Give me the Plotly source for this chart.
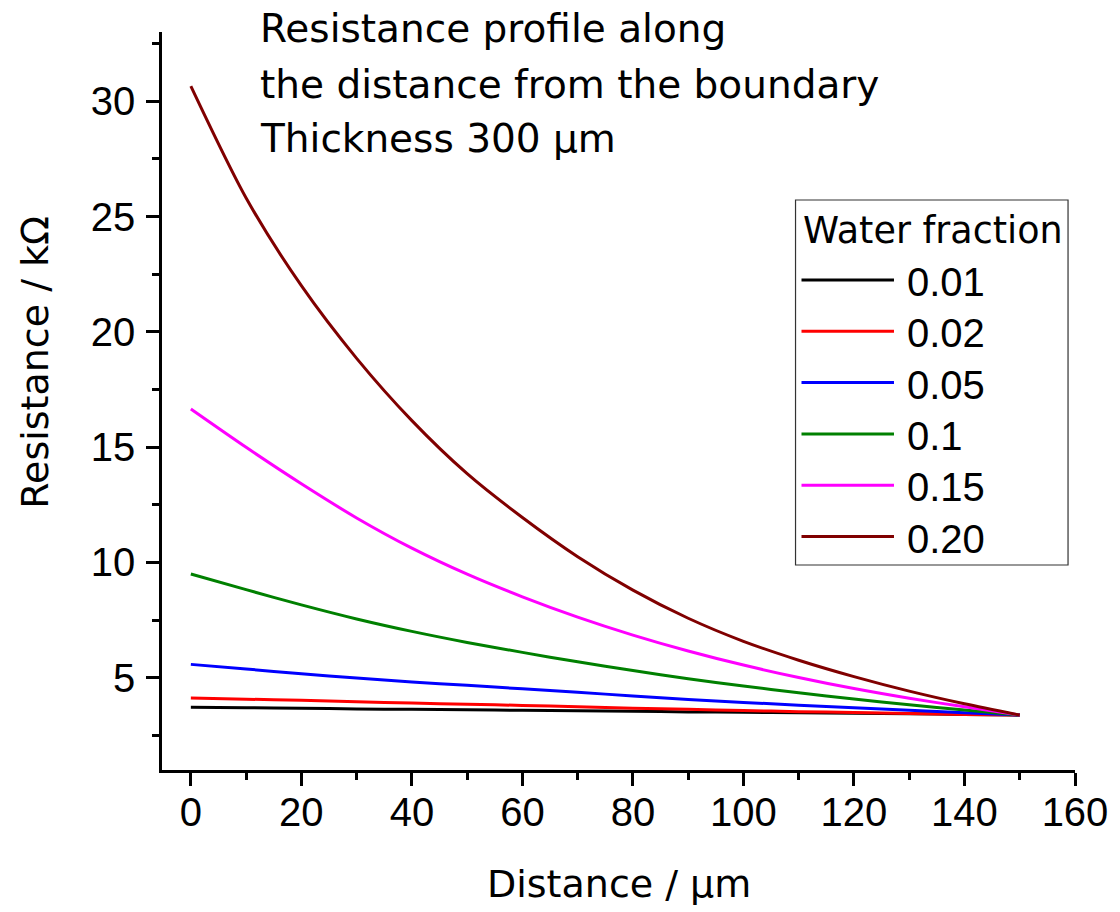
import plotly.graph_objects as go

# ---------------- data ----------------
distance_um = [0, 10, 20, 30, 40, 50, 60, 70, 80, 90, 100, 110, 120, 130, 140, 150]

r_001 = [3.72, 3.70, 3.68, 3.65, 3.63, 3.61, 3.59, 3.57, 3.55, 3.52, 3.50, 3.48, 3.46, 3.44, 3.41, 3.38]
r_002 = [4.12, 4.07, 4.02, 3.96, 3.90, 3.85, 3.80, 3.74, 3.68, 3.63, 3.58, 3.53, 3.49, 3.45, 3.41, 3.38]
r_005 = [5.58, 5.38, 5.17, 4.99, 4.82, 4.67, 4.52, 4.37, 4.21, 4.06, 3.93, 3.81, 3.70, 3.59, 3.48, 3.38]
r_010 = [9.50, 8.82, 8.16, 7.55, 7.01, 6.53, 6.10, 5.69, 5.31, 4.96, 4.64, 4.35, 4.08, 3.83, 3.60, 3.38]
r_015 = [16.65, 14.99, 13.41, 11.93, 10.62, 9.49, 8.51, 7.63, 6.85, 6.16, 5.55, 5.01, 4.53, 4.11, 3.74, 3.38]
r_020 = [30.65, 25.80, 22.00, 18.85, 16.15, 13.85, 11.95, 10.25, 8.80, 7.58, 6.58, 5.76, 5.05, 4.42, 3.87, 3.38]

series_names = ["0.01", "0.02", "0.05", "0.1", "0.15", "0.20"]
series_values = [r_001, r_002, r_005, r_010, r_015, r_020]
series_colors = ["#000000", "#ff0000", "#0000ff", "#008000", "#ff00ff", "#800000"]

x_ticks = [0, 20, 40, 60, 80, 100, 120, 140, 160]
y_ticks = [5, 10, 15, 20, 25, 30]

title_lines = ["Resistance profile along", "the distance from the boundary", "Thickness 300 \u03bcm"]
legend_title = "Water fraction"
x_title = "Distance / \u03bcm"
y_title = "Resistance / k\u03a9"

# ---------------- figure ----------------
FONT = "Arial, 'Liberation Sans', sans-serif"
FONT_TXT = "'DejaVu Sans', Arial, sans-serif"
FS = 40
FS_TXT = 38
W, H = 1120, 912
L, R, T, B = 162, 40, 32, 142
PW, PH = W - L - R, H - T - B


def px_x(px):
    return (px - L) / PW


def px_y(py):
    return (H - B - py) / PH


fig = go.Figure()
for name, vals, col in zip(series_names, series_values, series_colors):
    fig.add_trace(go.Scatter(x=distance_um, y=vals, mode="lines", name=name,
                             line=dict(color=col, width=3, shape="spline", smoothing=0.8),
                             showlegend=False))

axis_common = dict(
    showline=True, linecolor="black", linewidth=2.5, mirror=False,
    showgrid=False, zeroline=False,
    ticks="outside", ticklen=13, tickwidth=2.5, tickcolor="black",
    tickfont=dict(family=FONT, size=FS, color="black"),
)

fig.update_xaxes(range=[-5.22, 160], tickvals=x_ticks, ticklabelstandoff=-8,
                 minor=dict(dtick=10, tick0=0, ticks="outside", ticklen=7,
                            tickwidth=2.5, tickcolor="black"),
                 **axis_common)
fig.update_yaxes(range=[1, 33], tickvals=y_ticks, ticklabelstandoff=3,
                 minor=dict(dtick=2.5, tick0=0, ticks="outside", ticklen=7,
                            tickwidth=2.5, tickcolor="black"),
                 **axis_common)

annotations = []
# title block
for line, cy in zip(title_lines, [29, 84, 139]):
    annotations.append(dict(x=px_x(259), y=px_y(cy), xref="paper", yref="paper",
                            text=line, showarrow=False, xanchor="left", yanchor="middle",
                            font=dict(family=FONT_TXT, size=39, color="black")))
# axis titles
annotations.append(dict(x=px_x(622), y=px_y(884), xref="paper", yref="paper",
                        text=x_title, showarrow=False, xanchor="center", yanchor="middle",
                        font=dict(family=FONT_TXT, size=FS_TXT, color="black")))
annotations.append(dict(x=px_x(34), y=px_y(362), xref="paper", yref="paper",
                        text=y_title, showarrow=False, textangle=-90,
                        xanchor="center", yanchor="middle",
                        font=dict(family=FONT_TXT, size=FS_TXT, color="black")))

# legend (drawn manually to match long legend lines)
shapes = [dict(type="rect", xref="paper", yref="paper",
               x0=px_x(799), x1=px_x(1073), y0=px_y(565), y1=px_y(200),
               line=dict(color="#333333", width=1.2), fillcolor="white", layer="above")]
annotations.append(dict(x=px_x(805), y=px_y(230), xref="paper", yref="paper",
                        text=legend_title, showarrow=False, xanchor="left", yanchor="middle",
                        font=dict(family=FONT_TXT, size=36.5, color="black")))
row_y = [280, 331.3, 382.6, 433.9, 485.2, 536.5]
for name, col, ry in zip(series_names, series_colors, row_y):
    shapes.append(dict(type="line", xref="paper", yref="paper",
                       x0=px_x(805), x1=px_x(898), y0=px_y(ry), y1=px_y(ry),
                       line=dict(color=col, width=3), layer="above"))
    annotations.append(dict(x=px_x(909), y=px_y(ry + 2), xref="paper", yref="paper",
                            text=name, showarrow=False, xanchor="left", yanchor="middle",
                            font=dict(family=FONT, size=FS, color="black")))

fig.update_layout(
    width=W, height=H,
    margin=dict(l=L, r=R, t=T, b=B, pad=0),
    paper_bgcolor="white", plot_bgcolor="white",
    font=dict(family=FONT, size=FS, color="black"),
    annotations=annotations, shapes=shapes,
    showlegend=False,
)

fig.write_html("out.html")
